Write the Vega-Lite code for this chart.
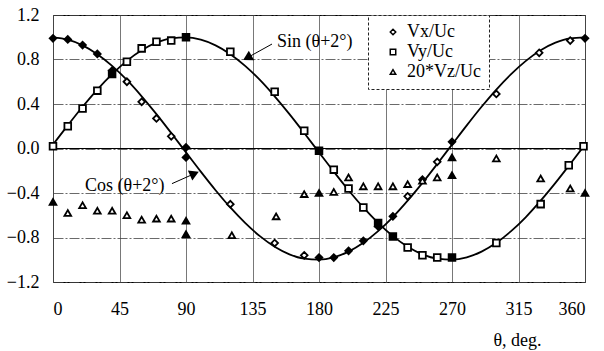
{
  "$schema": "https://vega.github.io/schema/vega-lite/v6.json",
  "width": 532,
  "height": 267,
  "autosize": "none",
  "padding": {"left": 53, "top": 15, "right": 19, "bottom": 69},
  "background": "white",
  "config": {
    "view": {"stroke": "black", "strokeWidth": 1},
    "font": "Liberation Serif",
    "axis": {"labelFont": "Liberation Serif", "labelFontSize": 18, "labelColor": "black", "titleFont": "Liberation Serif", "titleFontSize": 18, "titleFontWeight": "normal", "titleColor": "black"},
    "legend": {"labelFont": "Liberation Serif", "labelFontSize": 18, "labelColor": "black", "strokeDash": [3, 2]}
  },
  "datasets": {
    "points": [
      {"theta": 0, "value": 0.99, "series": "Vx/Uc", "run": "solid"},
      {"theta": 10, "value": 0.98, "series": "Vx/Uc", "run": "solid"},
      {"theta": 20, "value": 0.93, "series": "Vx/Uc", "run": "solid"},
      {"theta": 30, "value": 0.85, "series": "Vx/Uc", "run": "solid"},
      {"theta": 40, "value": 0.70, "series": "Vx/Uc", "run": "solid"},
      {"theta": 50, "value": 0.60, "series": "Vx/Uc", "run": "open"},
      {"theta": 60, "value": 0.42, "series": "Vx/Uc", "run": "open"},
      {"theta": 70, "value": 0.27, "series": "Vx/Uc", "run": "open"},
      {"theta": 80, "value": 0.11, "series": "Vx/Uc", "run": "open"},
      {"theta": 90, "value": 0.01, "series": "Vx/Uc", "run": "solid"},
      {"theta": 90, "value": -0.08, "series": "Vx/Uc", "run": "solid"},
      {"theta": 120, "value": -0.50, "series": "Vx/Uc", "run": "open"},
      {"theta": 150, "value": -0.85, "series": "Vx/Uc", "run": "open"},
      {"theta": 170, "value": -0.96, "series": "Vx/Uc", "run": "open"},
      {"theta": 180, "value": -0.98, "series": "Vx/Uc", "run": "solid"},
      {"theta": 190, "value": -0.98, "series": "Vx/Uc", "run": "solid"},
      {"theta": 200, "value": -0.92, "series": "Vx/Uc", "run": "solid"},
      {"theta": 210, "value": -0.83, "series": "Vx/Uc", "run": "solid"},
      {"theta": 220, "value": -0.70, "series": "Vx/Uc", "run": "solid"},
      {"theta": 230, "value": -0.61, "series": "Vx/Uc", "run": "solid"},
      {"theta": 240, "value": -0.43, "series": "Vx/Uc", "run": "open"},
      {"theta": 250, "value": -0.28, "series": "Vx/Uc", "run": "solid"},
      {"theta": 260, "value": -0.12, "series": "Vx/Uc", "run": "open"},
      {"theta": 270, "value": 0.06, "series": "Vx/Uc", "run": "solid"},
      {"theta": 300, "value": 0.49, "series": "Vx/Uc", "run": "open"},
      {"theta": 329, "value": 0.86, "series": "Vx/Uc", "run": "open"},
      {"theta": 350, "value": 0.97, "series": "Vx/Uc", "run": "open"},
      {"theta": 360, "value": 0.99, "series": "Vx/Uc", "run": "solid"},
      {"theta": 0, "value": 0.02, "series": "Vy/Uc", "run": "open"},
      {"theta": 10, "value": 0.20, "series": "Vy/Uc", "run": "open"},
      {"theta": 20, "value": 0.36, "series": "Vy/Uc", "run": "open"},
      {"theta": 30, "value": 0.52, "series": "Vy/Uc", "run": "open"},
      {"theta": 40, "value": 0.67, "series": "Vy/Uc", "run": "solid"},
      {"theta": 50, "value": 0.78, "series": "Vy/Uc", "run": "open"},
      {"theta": 60, "value": 0.90, "series": "Vy/Uc", "run": "open"},
      {"theta": 70, "value": 0.96, "series": "Vy/Uc", "run": "open"},
      {"theta": 80, "value": 0.97, "series": "Vy/Uc", "run": "open"},
      {"theta": 90, "value": 1.00, "series": "Vy/Uc", "run": "solid"},
      {"theta": 120, "value": 0.87, "series": "Vy/Uc", "run": "open"},
      {"theta": 150, "value": 0.51, "series": "Vy/Uc", "run": "open"},
      {"theta": 170, "value": 0.16, "series": "Vy/Uc", "run": "open"},
      {"theta": 180, "value": -0.02, "series": "Vy/Uc", "run": "solid"},
      {"theta": 190, "value": -0.19, "series": "Vy/Uc", "run": "open"},
      {"theta": 200, "value": -0.36, "series": "Vy/Uc", "run": "open"},
      {"theta": 210, "value": -0.53, "series": "Vy/Uc", "run": "open"},
      {"theta": 220, "value": -0.67, "series": "Vy/Uc", "run": "solid"},
      {"theta": 230, "value": -0.79, "series": "Vy/Uc", "run": "solid"},
      {"theta": 240, "value": -0.89, "series": "Vy/Uc", "run": "open"},
      {"theta": 250, "value": -0.96, "series": "Vy/Uc", "run": "open"},
      {"theta": 260, "value": -0.98, "series": "Vy/Uc", "run": "open"},
      {"theta": 270, "value": -0.98, "series": "Vy/Uc", "run": "solid"},
      {"theta": 300, "value": -0.85, "series": "Vy/Uc", "run": "open"},
      {"theta": 330, "value": -0.50, "series": "Vy/Uc", "run": "open"},
      {"theta": 349, "value": -0.15, "series": "Vy/Uc", "run": "open"},
      {"theta": 359, "value": 0.02, "series": "Vy/Uc", "run": "open"},
      {"theta": 0, "value": -0.48, "series": "20*Vz/Uc", "run": "solid"},
      {"theta": 10, "value": -0.58, "series": "20*Vz/Uc", "run": "open"},
      {"theta": 20, "value": -0.51, "series": "20*Vz/Uc", "run": "open"},
      {"theta": 30, "value": -0.56, "series": "20*Vz/Uc", "run": "open"},
      {"theta": 40, "value": -0.56, "series": "20*Vz/Uc", "run": "open"},
      {"theta": 50, "value": -0.60, "series": "20*Vz/Uc", "run": "open"},
      {"theta": 60, "value": -0.64, "series": "20*Vz/Uc", "run": "open"},
      {"theta": 70, "value": -0.63, "series": "20*Vz/Uc", "run": "open"},
      {"theta": 80, "value": -0.63, "series": "20*Vz/Uc", "run": "open"},
      {"theta": 90, "value": -0.65, "series": "20*Vz/Uc", "run": "solid"},
      {"theta": 90, "value": -0.77, "series": "20*Vz/Uc", "run": "solid"},
      {"theta": 121, "value": -0.78, "series": "20*Vz/Uc", "run": "open"},
      {"theta": 151, "value": -0.61, "series": "20*Vz/Uc", "run": "open"},
      {"theta": 170, "value": -0.41, "series": "20*Vz/Uc", "run": "open"},
      {"theta": 180, "value": -0.40, "series": "20*Vz/Uc", "run": "solid"},
      {"theta": 190, "value": -0.39, "series": "20*Vz/Uc", "run": "open"},
      {"theta": 200, "value": -0.26, "series": "20*Vz/Uc", "run": "open"},
      {"theta": 210, "value": -0.34, "series": "20*Vz/Uc", "run": "open"},
      {"theta": 220, "value": -0.34, "series": "20*Vz/Uc", "run": "open"},
      {"theta": 230, "value": -0.34, "series": "20*Vz/Uc", "run": "open"},
      {"theta": 240, "value": -0.32, "series": "20*Vz/Uc", "run": "open"},
      {"theta": 250, "value": -0.29, "series": "20*Vz/Uc", "run": "open"},
      {"theta": 260, "value": -0.26, "series": "20*Vz/Uc", "run": "open"},
      {"theta": 270, "value": -0.24, "series": "20*Vz/Uc", "run": "solid"},
      {"theta": 270, "value": -0.08, "series": "20*Vz/Uc", "run": "solid"},
      {"theta": 300, "value": -0.09, "series": "20*Vz/Uc", "run": "open"},
      {"theta": 330, "value": -0.27, "series": "20*Vz/Uc", "run": "open"},
      {"theta": 350, "value": -0.36, "series": "20*Vz/Uc", "run": "open"},
      {"theta": 360, "value": -0.40, "series": "20*Vz/Uc", "run": "solid"}
    ],
    "curves": [
      {"theta": 0, "curve": "sin", "value": 0.035}, {"theta": 10, "curve": "sin", "value": 0.208},
      {"theta": 20, "curve": "sin", "value": 0.375}, {"theta": 30, "curve": "sin", "value": 0.530},
      {"theta": 40, "curve": "sin", "value": 0.669}, {"theta": 50, "curve": "sin", "value": 0.788},
      {"theta": 60, "curve": "sin", "value": 0.883}, {"theta": 70, "curve": "sin", "value": 0.951},
      {"theta": 80, "curve": "sin", "value": 0.990}, {"theta": 90, "curve": "sin", "value": 0.999},
      {"theta": 100, "curve": "sin", "value": 0.978}, {"theta": 110, "curve": "sin", "value": 0.927},
      {"theta": 120, "curve": "sin", "value": 0.848}, {"theta": 130, "curve": "sin", "value": 0.743},
      {"theta": 140, "curve": "sin", "value": 0.616}, {"theta": 150, "curve": "sin", "value": 0.469},
      {"theta": 160, "curve": "sin", "value": 0.309}, {"theta": 170, "curve": "sin", "value": 0.139},
      {"theta": 180, "curve": "sin", "value": -0.035}, {"theta": 190, "curve": "sin", "value": -0.208},
      {"theta": 200, "curve": "sin", "value": -0.375}, {"theta": 210, "curve": "sin", "value": -0.530},
      {"theta": 220, "curve": "sin", "value": -0.669}, {"theta": 230, "curve": "sin", "value": -0.788},
      {"theta": 240, "curve": "sin", "value": -0.883}, {"theta": 250, "curve": "sin", "value": -0.951},
      {"theta": 260, "curve": "sin", "value": -0.990}, {"theta": 270, "curve": "sin", "value": -0.999},
      {"theta": 280, "curve": "sin", "value": -0.978}, {"theta": 290, "curve": "sin", "value": -0.927},
      {"theta": 300, "curve": "sin", "value": -0.848}, {"theta": 310, "curve": "sin", "value": -0.743},
      {"theta": 320, "curve": "sin", "value": -0.616}, {"theta": 330, "curve": "sin", "value": -0.469},
      {"theta": 340, "curve": "sin", "value": -0.309}, {"theta": 350, "curve": "sin", "value": -0.139},
      {"theta": 360, "curve": "sin", "value": 0.035},
      {"theta": 0, "curve": "cos", "value": 0.999}, {"theta": 10, "curve": "cos", "value": 0.978},
      {"theta": 20, "curve": "cos", "value": 0.927}, {"theta": 30, "curve": "cos", "value": 0.848},
      {"theta": 40, "curve": "cos", "value": 0.743}, {"theta": 50, "curve": "cos", "value": 0.616},
      {"theta": 60, "curve": "cos", "value": 0.469}, {"theta": 70, "curve": "cos", "value": 0.309},
      {"theta": 80, "curve": "cos", "value": 0.139}, {"theta": 90, "curve": "cos", "value": -0.035},
      {"theta": 100, "curve": "cos", "value": -0.208}, {"theta": 110, "curve": "cos", "value": -0.375},
      {"theta": 120, "curve": "cos", "value": -0.530}, {"theta": 130, "curve": "cos", "value": -0.669},
      {"theta": 140, "curve": "cos", "value": -0.788}, {"theta": 150, "curve": "cos", "value": -0.883},
      {"theta": 160, "curve": "cos", "value": -0.951}, {"theta": 170, "curve": "cos", "value": -0.990},
      {"theta": 180, "curve": "cos", "value": -0.999}, {"theta": 190, "curve": "cos", "value": -0.978},
      {"theta": 200, "curve": "cos", "value": -0.927}, {"theta": 210, "curve": "cos", "value": -0.848},
      {"theta": 220, "curve": "cos", "value": -0.743}, {"theta": 230, "curve": "cos", "value": -0.616},
      {"theta": 240, "curve": "cos", "value": -0.469}, {"theta": 250, "curve": "cos", "value": -0.309},
      {"theta": 260, "curve": "cos", "value": -0.139}, {"theta": 270, "curve": "cos", "value": 0.035},
      {"theta": 280, "curve": "cos", "value": 0.208}, {"theta": 290, "curve": "cos", "value": 0.375},
      {"theta": 300, "curve": "cos", "value": 0.530}, {"theta": 310, "curve": "cos", "value": 0.669},
      {"theta": 320, "curve": "cos", "value": 0.788}, {"theta": 330, "curve": "cos", "value": 0.883},
      {"theta": 340, "curve": "cos", "value": 0.951}, {"theta": 350, "curve": "cos", "value": 0.990},
      {"theta": 360, "curve": "cos", "value": 0.999}
    ],
    "notes": [
      {"name": "sin", "text": "Sin (θ+2°)", "tx": 151.6, "ty": 0.957, "x": 148.2, "y": 0.939, "hx": 131.5, "hy": 0.816},
      {"name": "cos", "text": "Cos (θ+2°)", "tx": 21.7, "ty": -0.334, "x": 80.5, "y": -0.316, "hx": 95.7, "hy": -0.226}
    ]
  },
  "layer": [
    {
      "data": {"name": "curves"},
      "mark": {"type": "line", "color": "black", "strokeWidth": 1.8, "interpolate": "monotone"},
      "encoding": {
        "x": {"field": "theta", "type": "quantitative", "scale": {"domain": [0, 360], "nice": false},
          "axis": {"orient": "bottom", "values": [0, 45, 90, 135, 180, 225, 270, 315, 360], "grid": true, "gridColor": "#555", "gridWidth": 0.8, "ticks": false, "domain": false, "labelPadding": 18, "labelOverlap": false,
            "title": "θ, deg.", "titleX": 464, "titleY": 58, "titleAlign": "center", "titleBaseline": "middle", "titleAnchor": null}},
        "y": {"field": "value", "type": "quantitative", "scale": {"domain": [-1.2, 1.2], "nice": false},
          "axis": {"orient": "left", "values": [-1.2, -0.8, -0.4, 0, 0.4, 0.8, 1.2], "format": ".1f", "grid": true, "gridColor": "#444", "gridWidth": 0.8, "gridDash": [10, 2, 2, 2], "ticks": false, "domain": false, "labelPadding": 14, "labelOverlap": false, "title": null}},
        "detail": {"field": "curve"}
      }
    },
    {
      "data": {"values": [{"zero": 0}]},
      "mark": {"type": "rule", "color": "black", "strokeWidth": 1},
      "encoding": {"y": {"field": "zero", "type": "quantitative"}}
    },
    {
      "data": {"name": "points"},
      "mark": {"type": "point", "filled": true, "stroke": "black", "strokeWidth": 1.8, "size": 45, "opacity": 1},
      "encoding": {
        "x": {"field": "theta", "type": "quantitative"},
        "y": {"field": "value", "type": "quantitative"},
        "shape": {"field": "series", "type": "nominal",
          "scale": {"domain": ["Vx/Uc", "Vy/Uc", "20*Vz/Uc"], "range": ["diamond", "square", "triangle-up"]},
          "legend": {"orient": "none", "legendX": 315, "legendY": 0, "title": null, "padding": 8, "strokeColor": "#222", "fillColor": "white",
            "symbolSize": 30, "symbolOffset": 8, "labelOffset": 5, "rowPadding": 2, "labelFontSize": 18,
            "encode": {"symbols": {"update": {
              "stroke": {"value": "black"},
              "strokeWidth": {"value": 2},
              "opacity": {"value": 1},
              "fill": {"signal": "datum.label === '20*Vz/Uc' ? 'black' : 'white'"}
            }}}}},
        "fill": {"condition": {"test": "datum.run === 'solid'", "value": "black"}, "value": "white"}
      }
    },
    {
      "data": {"name": "notes"},
      "mark": {"type": "rule", "color": "black", "strokeWidth": 1},
      "encoding": {
        "x": {"field": "x", "type": "quantitative"},
        "y": {"field": "y", "type": "quantitative"},
        "x2": {"field": "hx"},
        "y2": {"field": "hy"}
      }
    },
    {
      "data": {"name": "notes"},
      "transform": [{"filter": "datum.name === 'sin'"}],
      "mark": {"type": "point", "shape": "triangle-right", "filled": true, "color": "black", "size": 120, "angle": 151, "opacity": 1},
      "encoding": {
        "x": {"field": "hx", "type": "quantitative"},
        "y": {"field": "hy", "type": "quantitative"}
      }
    },
    {
      "data": {"name": "notes"},
      "transform": [{"filter": "datum.name === 'cos'"}],
      "mark": {"type": "point", "shape": "triangle-right", "filled": true, "color": "black", "size": 120, "angle": 336, "opacity": 1},
      "encoding": {
        "x": {"field": "hx", "type": "quantitative"},
        "y": {"field": "hy", "type": "quantitative"}
      }
    },
    {
      "data": {"name": "notes"},
      "mark": {"type": "text", "align": "left", "baseline": "middle", "font": "Liberation Serif", "fontSize": 18, "color": "black"},
      "encoding": {
        "x": {"field": "tx", "type": "quantitative"},
        "y": {"field": "ty", "type": "quantitative"},
        "text": {"field": "text"}
      }
    }
  ]
}
